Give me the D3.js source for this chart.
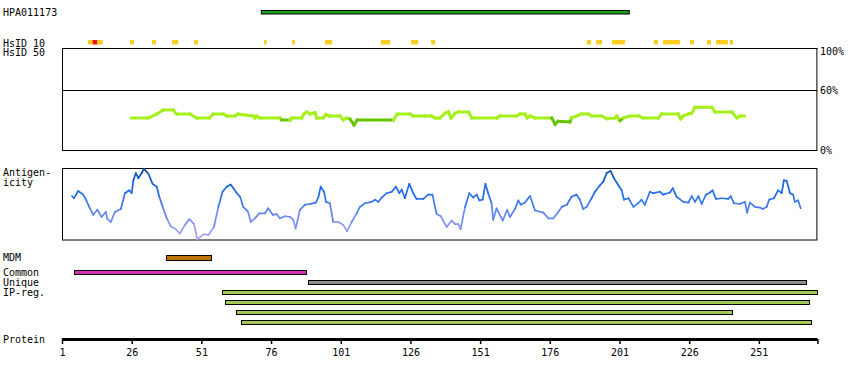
<!DOCTYPE html>
<html><head><meta charset="utf-8">
<script src="https://cdn.jsdelivr.net/npm/d3@7"></script>
<style>
html,body{margin:0;padding:0;background:#fff;}
svg text{font-family:"DejaVu Sans Mono",monospace;font-size:10px;fill:#000;}
</style></head>
<body><svg id="c" width="850" height="380"></svg>
<script>
// ---------- data ----------
const seqLength = 271;
const axisTicks = [1, 26, 51, 76, 101, 126, 151, 176, 201, 226, 251];

const antigenName = "HPA011173";
const antigenRange = [72.5, 204.5];

const hsid10Start = [10.3, 12.0, 13.7, 25.4, 33.3, 40.5, 48.4, 73.5, 83.5, 95.4, 115.4, 126.2, 133.4, 189.3, 192.6, 198.3, 213.4, 216.6, 226.3, 232.4, 235.6, 240.6];
const hsid10End   = [12.0, 13.7, 15.6, 26.8, 34.7, 42.6, 49.8, 74.4, 84.5, 97.9, 118.7, 128.7, 134.8, 190.8, 194.7, 203.0, 214.8, 222.7, 227.7, 233.8, 239.9, 241.7];
const hsid10Level = ["mid","high","mid","mid","mid","mid","mid","mid","mid","mid","mid","mid","mid","mid","mid","mid","mid","mid","mid","mid","mid","mid"];

const hsidPos = [25.9,31.9,35.0,37.3,40.9,42.1,46.9,49.3,53.8,55.3,58.9,60.1,63.1,64.2,66.0,69.6,70.2,70.8,72.0,79.2,79.8,82.8,83.4,87.0,87.8,88.8,90.0,91.8,92.4,94.7,95.7,97.1,100.7,101.9,103.1,104.3,105.8,106.9,119.9,121.3,125.8,127.0,131.2,
133.6,134.8,136.6,138.4,139.6,140.6,142.0,143.2,146.8,148.0,157.0,158.1,164.1,165.3,167.1,167.9,168.9,170.7,176.7,177.9,179.0,183.2,183.8,187.4,189.8,191.0,194.6,196.4,199.4,200.0,201.2,202.4,204.8,207.8,209.5,214.9,216.1,222.1,222.9,223.9,225.7,226.9,228.1,234.1,235.3,241.3,243.1,244.2,245.8];
const hsidVal = [32,32,36,40,40,36,36,32,32,36,36,34,34,36,35.3,34,32,34,32,32,30,30,32,32,36,38,36,37.3,32,32,35.3,34,34,30,32,31,25,30,30,36,36,34,34,
34,32,32,36.7,38.3,32,36.7,38,38,32,32,34,34,36,36,32,34,32,32,25.7,28.7,28,32,36,36,34,34,31.3,32,34,29.3,32,34,34,32,32,36,36,31,34,36,36.7,42.7,42.7,38,38,32,34,34];
const hsidTicks = [100, 60, 0];

const agPos = [4.6,5.3,6.8,8.6,9.6,11.0,12.2,13.7,15.2,16.7,17.3,18.5,20.0,22.1,23.6,25.1,26.0,26.6,27.5,28.4,29.6,30.4,32.0,33.5,35.0,35.9,37.3,38.6,40.0,41.5,43.3,45.1,46.7,48.4,49.5,50.5,51.9,53.5,55.5,57.1,58.6,60.1,61.5,62.5,63.7,64.9,66.0,67.8,68.7,70.2,71.8,73.8,75.0,76.6,78.0,79.2,81.0,82.8,84.0,84.8,86.4,88.2,90.0,92.1,93.0,93.8,95.0,95.7,97.1,98.3,100.1,101.9,103.3,104.9,106.7,107.9,109.7,112.1,113.3,114.5,115.7,117.5,119.3,120.8,122.0,122.9,124.0,125.6,127.0,128.2,130.6,132.4,133.9,135.4,136.9,139.0,140.8,142.0,143.2,144.0,145.6,147.1,148.5,149.8,150.7,151.9,152.9,153.9,155.1,155.7,156.9,159.1,160.7,161.7,163.5,164.7,165.6,167.1,168.9,170.7,173.7,175.5,177.2,178.7,180.3,182.1,183.8,185.6,186.8,188.0,189.2,191.0,192.2,194.0,195.2,196.4,197.8,199.0,200.6,201.8,202.6,204.2,206.0,207.7,208.9,210.1,211.9,213.1,215.5,216.7,219.1,220.1,221.5,223.9,225.7,226.9,228.1,229.3,230.5,232.0,233.5,234.4,235.6,237.7,240.0,240.9,242.1,244.2,246.0,246.8,247.8,249.6,251.4,252.4,253.8,254.7,256.4,257.9,259.2,260.0,261.0,262.2,263.3,263.9,265.1,266.0];
const agVal = [61,58,68,63,56,44,35,42,32,39,29,25,39,43,65,69,65,83,93,86,93,99,92,78,74,60,44,30,19,16,9,21,29,22,1,4,8,7,18,46,67,74,77,72,65,60,46,39,25,30,37,37,44,35,36,30,33,32,28,16,42,49,50,52,60,74,67,53,51,25,25,21,12,25,37,46,51,53,56,53,59,65,67,74,65,70,58,78,65,57,57,63,63,36,33,18,27,22,22,15,46,65,59,63,55,56,78,65,51,28,44,27,42,32,43,55,49,52,61,41,38,30,30,37,46,49,60,63,56,43,46,58,67,76,81,93,96,86,76,69,56,58,46,51,56,49,67,65,67,63,66,72,60,53,52,61,53,61,50,63,66,69,57,58,57,61,51,50,53,38,52,46,45,43,46,56,58,69,65,83,82,65,63,53,55,44];

const featureNames = ["MDM", "Common", "Unique", "IP-reg", "IP-reg", "IP-reg", "IP-reg"];
const featureStart = [38.4, 5.3, 89.2, 58.4, 59.5, 63.4, 65.2];
const featureEnd   = [54.6, 88.4, 267.8, 271.7, 268.9, 241.5, 269.6];

// ---------- drawing ----------
const svg = d3.select("#c");
const x = d3.scaleLinear().domain([1, seqLength + 1]).range([62, 817.4]);

const label = (t, lx, ly) => svg.append("text").attr("x", lx).attr("y", ly).text(t);

// antigen bar
label(antigenName, 3, 16);
svg.append("rect").attr("x", x(antigenRange[0])).attr("y", 10.5)
  .attr("width", x(antigenRange[1]) - x(antigenRange[0])).attr("height", 3.5)
  .attr("fill", "#1ea01e").attr("stroke", "#000").attr("stroke-width", 1);

// HsID 10 marks
label("HsID 10", 3, 46.5);
const hsColor = {mid: "#ffcc22", high: "#ee1111"};
svg.append("g").selectAll("rect").data(d3.range(hsid10Start.length)).join("rect")
  .attr("x", i => x(hsid10Start[i])).attr("y", 40)
  .attr("width", i => x(hsid10End[i]) - x(hsid10Start[i])).attr("height", 4.5)
  .attr("fill", i => hsColor[hsid10Level[i]]);

// HsID 50 panel
label("HsID 50", 3, 56);
const yH = d3.scaleLinear().domain([0, 100]).range([150, 50]);
const hsG = svg.append("g");
hsG.append("path").attr("d", `M${x(1)},48.5H${x(seqLength+1)}`).attr("stroke", "#000").attr("fill","none");
hsG.append("path").attr("d", `M${x(1)+0.5},48V150.5M${x(seqLength+1)-0.5},48V150.5`).attr("stroke", "#000");
hsG.append("path").attr("d", `M${x(1)},150.5H${x(seqLength+1)}`).attr("stroke", "#000");
hsG.append("path").attr("d", `M${x(1)},${Math.round(yH(60))+0.5}H${x(seqLength+1)}`).attr("stroke", "#000");
hsidTicks.forEach(t => label(t + "%", 820, yH(t) + (t === 100 ? 5 : 4)));
const hsPts = d3.zip(hsidPos, hsidVal);
hsG.selectAll("line").data(d3.range(hsPts.length - 1)).join("line")
  .attr("x1", i => x(hsPts[i][0])).attr("y1", i => yH(hsPts[i][1]))
  .attr("x2", i => x(hsPts[i+1][0])).attr("y2", i => yH(hsPts[i+1][1]))
  .attr("stroke", i => ((hsPts[i][1] + hsPts[i+1][1]) / 2 < 31) ? "#66c400" : "#a6f01a")
  .attr("stroke-width", 3).attr("stroke-linecap", "square");

// Antigenicity panel
label("Antigen-", 3, 176);
label("icity", 3, 186);
const yA = d3.scaleLinear().domain([0, 100]).range([240, 168]);
const agG = svg.append("g");
agG.append("rect").attr("x", x(1)+0.5).attr("y", 168.5)
  .attr("width", x(seqLength+1) - x(1) - 1).attr("height", 71.5)
  .attr("fill", "none").attr("stroke", "#000");
const agColor = d3.scaleLinear().domain([0, 22, 45, 70, 88, 100])
  .range(["#b2a8f4", "#8a94f6", "#4a7cf0", "#1a6ae8", "#0e58c0", "#0a4088"]);
const agPts = d3.zip(agPos, agVal);
agG.selectAll("line").data(d3.range(agPts.length - 1)).join("line")
  .attr("x1", i => x(agPts[i][0])).attr("y1", i => yA(agPts[i][1]))
  .attr("x2", i => x(agPts[i+1][0])).attr("y2", i => yA(agPts[i+1][1]))
  .attr("stroke", i => agColor((agPts[i][1] + agPts[i+1][1]) / 2))
  .attr("stroke-width", 1.7).attr("stroke-linecap", "round");

// features
const featColor = {"MDM": "#c07400", "Common": "#d030b0", "Unique": "#8e8e8e", "IP-reg": "#a2c856"};
const featY = [255.5, 270.5, 280.5, 290.5, 300.5, 310.5, 320.5];
label("MDM", 3, 261);
label("Common", 3, 276);
label("Unique", 3, 286);
label("IP-reg.", 3, 296);
svg.append("g").selectAll("rect").data(d3.range(featureNames.length)).join("rect")
  .attr("x", i => Math.round(x(featureStart[i])) + 0.5).attr("y", i => featY[i])
  .attr("width", i => Math.round(x(featureEnd[i]) - x(featureStart[i])))
  .attr("height", i => i === 0 ? 5 : 4)
  .attr("fill", i => featColor[featureNames[i]])
  .attr("stroke", "#000").attr("stroke-width", 1);

// protein axis
label("Protein", 3, 343);
svg.append("line").attr("x1", x(1)).attr("x2", x(seqLength+1)).attr("y1", 339.5).attr("y2", 339.5)
  .attr("stroke", "#000").attr("stroke-width", 3);
const axis = d3.axisBottom(x).tickValues(axisTicks.concat([seqLength + 1]))
  .tickSize(5).tickSizeOuter(0)
  .tickFormat(d => axisTicks.includes(d) ? d : "");
const ag = svg.append("g").attr("transform", "translate(0,339)").call(axis);
ag.select(".domain").remove();
ag.selectAll(".tick line").attr("stroke", "#000").attr("stroke-width", 1.5);
ag.selectAll(".tick text").attr("dy", null).attr("y", 17)
  .style("font-family", '"DejaVu Sans Mono",monospace').style("font-size", "10px");
</script></body></html>
